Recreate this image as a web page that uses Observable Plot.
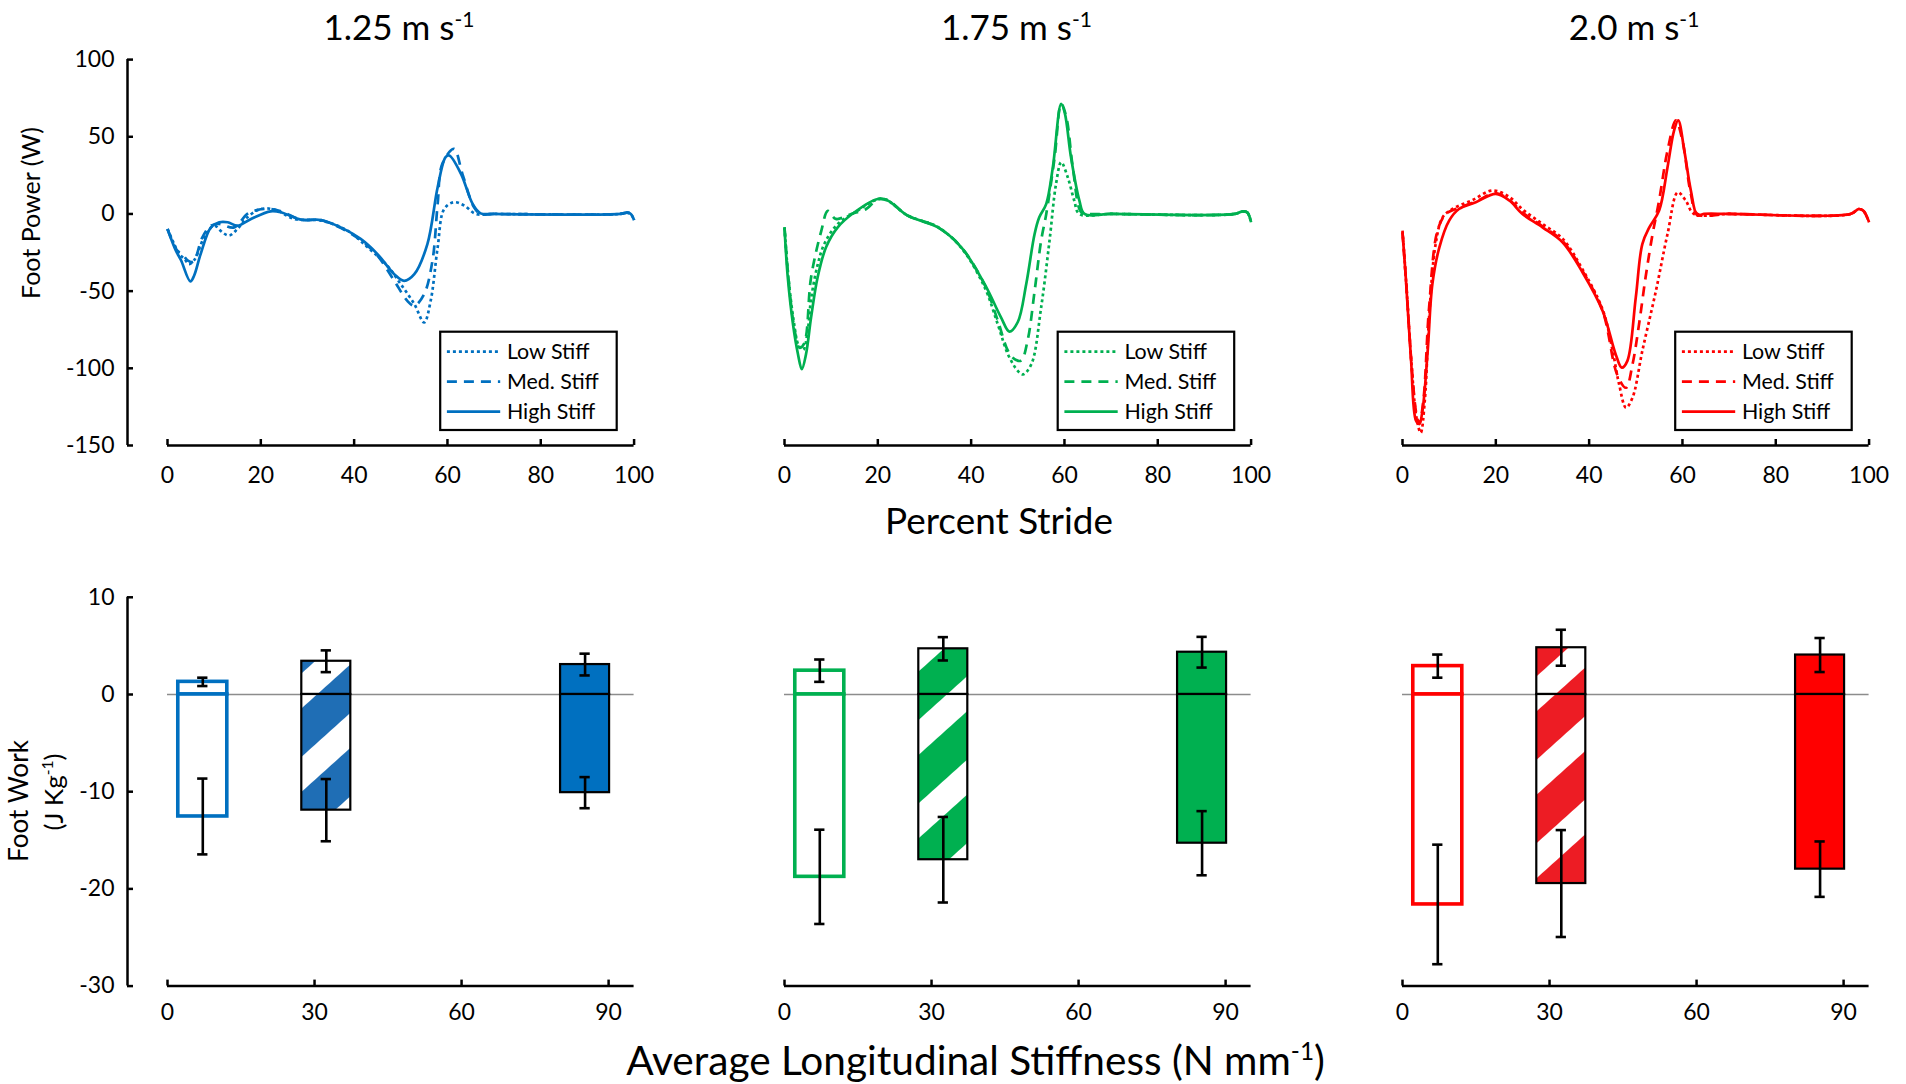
<!DOCTYPE html>
<html>
<head>
<meta charset="utf-8">
<script src="https://cdn.jsdelivr.net/npm/d3@7"></script>
<script src="https://cdn.jsdelivr.net/npm/@observablehq/plot@0.6"></script>
<style>
  html, body { margin: 0; padding: 0; background: #fff; }
  #chart { position: relative; width: 1906px; height: 1084px; overflow: hidden; background: #fff; }
  #chart svg { position: absolute; max-width: none; }
</style>
</head>
<body>
<div id="chart"></div>
<script>
// ---------------- DATA ----------------
const speeds = ["1.25", "1.75", "2.0"];
const stiffLabels = ["Low Stiff", "Med. Stiff", "High Stiff"];
const stiffness = [7.2, 32.4, 85.2];            // average longitudinal stiffness (N/mm)
const strideTicks = [0, 20, 40, 60, 80, 100];
const powerTicks = [100, 50, 0, -50, -100, -150];
const stiffTicks = [0, 30, 60, 90];
const workTicks = [10, 0, -10, -20, -30];

// Foot power (W) vs percent stride  [percent, watts]
const power125Low = [[0,-9.7],[1.5,-20],[2.5,-26],[3.6,-29],[4.6,-32.5],[5.7,-30],[7.9,-15],[10,-7.6],[11.8,-12],[13.2,-14],[15,-9.7],[17.1,-2.2],[20,3.2],[23.2,2.6],[27.1,-3.2],[32.9,-4.3],[38.6,-10.8],[42.9,-21.6],[47.1,-33.5],[50,-45.5],[52.9,-58.4],[55,-70.3],[56.4,-56.3],[57.9,-21.6],[59.3,3.2],[61.4,7.6],[63.6,5.4],[66.1,0],[70,0],[97,0],[98.5,0.8],[99.3,0],[100,-4]];
const power125Med = [[0,-9.7],[2.1,-23.8],[3.2,-26],[4.3,-30],[5.5,-31],[7.5,-15],[9.3,-7.6],[11.1,-6.5],[14.3,-8.7],[17.1,0],[19.3,2.6],[22.1,3.2],[24.5,1.5],[28.6,-3.7],[32.9,-4],[37.1,-9],[41.4,-17],[45,-27],[48.6,-43.3],[51.4,-56.3],[52.9,-59.5],[55,-52],[56.8,-30],[57.9,6.5],[58.9,32.5],[61.4,42.2],[63.2,26],[65.7,4.3],[67.1,0],[70,0],[97,0],[98.5,0.8],[99.3,0],[100,-4]];
const power125High = [[0,-9.7],[1.8,-23.8],[2.9,-30],[4.9,-43.7],[5.7,-40],[7.1,-26],[9.3,-8.7],[11.1,-5.4],[12.9,-5.4],[15,-7.6],[17.9,-3.2],[22.1,1.7],[24.3,1.1],[28.6,-3.7],[32.9,-3.9],[37.1,-8.7],[41.4,-16.2],[45,-26],[48.6,-39],[50.7,-43.3],[52.9,-39],[55.7,-19.5],[57.9,17.3],[59.6,36.8],[60.4,37.9],[62.9,26],[65.4,6.5],[67.1,0.4],[70,0],[97,0],[98.5,0.8],[99.3,0],[100,-4]];

const power175Low = [[0,-8.7],[0.8,-40],[2,-70],[3,-85],[4,-88],[5,-75],[5.7,-55],[7.1,-33],[8.6,-19],[11.4,-6.5],[15.7,2.2],[19.3,8.7],[21.4,9.7],[26.4,-1],[32.9,-8.5],[37.9,-22],[42.9,-47.6],[45.7,-71.4],[47.9,-91],[50,-101.7],[51.1,-104],[52.9,-97.4],[55,-60.6],[56.8,-17.3],[58.2,19.5],[59.3,33.5],[60.7,23.8],[62.1,8.7],[63.2,0],[70,0],[96.5,0],[98.2,1.7],[99.2,1],[100,-5.4]];
const power175Med = [[0,-8.7],[0.8,-40],[2,-72],[3.2,-86.6],[4.2,-84],[5.7,-41],[7.9,-10.8],[9.3,2],[11,-3.2],[14.3,0],[17.5,3.2],[20,9.7],[22.1,9],[26.4,-1],[32.9,-8.7],[37.9,-21.6],[42.9,-46],[45.7,-69],[47.9,-88.7],[49.3,-94],[50.7,-95],[52.1,-82],[53.6,-50],[55,-17.3],[56.1,0],[57.9,36.8],[59.3,71.4],[60.4,62.8],[61.8,30],[63.6,1],[65,0],[70,0],[96.5,0],[98.2,1.7],[99.2,1],[100,-5.4]];
const power175High = [[0,-8.7],[0.7,-41],[1.8,-71],[2.9,-91],[3.7,-100.6],[4.6,-91],[5.7,-67],[7.1,-41],[8.9,-21.6],[11.4,-8.7],[15,1.1],[20,9.7],[22.1,8.7],[26.4,-1.1],[32.9,-8.7],[37.9,-21.6],[42.9,-45.5],[46.4,-67],[48.2,-76.2],[50,-70],[51.8,-45.5],[53.6,-13],[54.6,-2.2],[56.1,6.5],[57.5,30],[59.3,71.4],[60.1,65],[61.4,36.8],[63.2,8.7],[64.3,0],[70,0],[96.5,0],[98.2,1.7],[99.2,1],[100,-5.4]];

const power200Low = [[0,-10.8],[0.8,-45],[2,-100],[3,-132],[3.9,-141.8],[4.8,-120],[5.7,-67],[7.1,-19.5],[8.6,-2.2],[10.7,3.2],[15,9],[19.3,15.2],[22.9,11],[25.7,3],[30,-6.5],[34.3,-16],[38.6,-36],[42.9,-62],[45,-88],[46.4,-110],[47.9,-125.5],[49.3,-119],[51.4,-88.7],[54.3,-50],[56.8,-13],[59,14],[60.7,8.7],[62.5,0],[70,0],[96,0],[97.8,3.2],[98.8,2],[100,-5.4]];
const power200Med = [[0,-11.9],[0.8,-45],[2,-100],[3,-130],[3.6,-136],[4.5,-120],[5.7,-60.6],[7.5,-10.8],[9.3,0],[11.4,3.2],[15.7,8],[20,13.5],[22.9,9],[25.7,1],[30,-8],[34.3,-17.5],[38.6,-37],[42.9,-62.8],[46,-104],[47.9,-112.6],[49.3,-97.4],[50.7,-71.4],[52.1,-41],[53.6,-13],[55,8.7],[56.8,41],[58.6,60.6],[60,47.6],[61.8,13],[63.2,0],[70,0],[96,0],[97.8,3.2],[98.8,2],[100,-5.4]];
const power200High = [[0,-11.9],[0.7,-41],[1.8,-93],[2.9,-134],[3.6,-136],[4.3,-127],[5.4,-88.7],[6.4,-45.5],[7.9,-21.6],[10,-4.3],[12.1,3.2],[15.7,7.6],[20,13],[22.9,8.7],[25.7,0],[30,-8.7],[34.3,-18.4],[38.6,-37.9],[42.9,-62.8],[45.7,-91],[47,-99.6],[48.2,-95.2],[50,-54],[51.4,-19.5],[52.9,-8.7],[55,2.2],[56.8,30.3],[58.2,54],[59.1,60.6],[60.4,41],[61.8,15.2],[63.2,-1],[64.6,0],[70,0],[96,0],[97.8,3.2],[98.8,2],[100,-5.4]];

// Foot work (J/kg): rows = speeds, columns = low / med / high stiffness
const workPosMean = [[1.3, 3.42, 3.08], [2.45, 4.7, 4.35], [2.92, 4.81, 4.06]];
const workPosSD   = [[0.43, 1.12, 1.12], [1.15, 1.2, 1.58], [1.19, 1.85, 1.75]];
const workNegMean = [[-12.55, -11.9, -10.1], [-18.76, -17.0, -15.3], [-21.6, -19.45, -17.97]];
const workNegSD   = [[3.9, 3.2, 1.6], [4.85, 4.4, 3.3], [6.15, 5.5, 2.85]];

// ---------------- STYLE / LAYOUT ----------------
const FONT = "Lato, 'Open Sans', 'DejaVu Sans', sans-serif";
const lineColors = ["#0070C0", "#00B050", "#FF0000"];
const barColors = ["#0070C0", "#00B050", "#FF0000"];
const hatchColors = ["#1F6EB5", "#00B050", "#ED1C24"];
const hatchPhase = [14, 48.6, 16.2];
const dashes = ["3,3", "10,7", null];
const powerSeries = [
  [power125Low, power125Med, power125High],
  [power175Low, power175Med, power175High],
  [power200Low, power200Med, power200High]
];

const W = 1906, H = 1084;
const X0 = [166.7, 784.2, 1401.7];
const FW = 466.6;
const ML = 70, MR = 14;
const TICK_FONT = 23;
const chart = document.getElementById("chart");

function place(svg, left, top) {
  svg.style.left = left + "px";
  svg.style.top = top + "px";
  chart.appendChild(svg);
}

// ---------------- TOP ROW: foot power ----------------
for (let i = 0; i < 3; i++) {
  const height = 510, yMin = 445, yMax = 59.1;
  const svg = Plot.plot({
    width: ML + FW + MR,
    height,
    marginLeft: ML, marginRight: MR, marginTop: yMax, marginBottom: height - yMin,
    x: {domain: [0, 100], label: null},
    y: {domain: [-150, 100], label: null, axis: i === 0 ? undefined : null},
    style: {fontFamily: FONT, fontSize: TICK_FONT + "px", color: "#000", background: "transparent", overflow: "visible"},
    marks: [
      Plot.ruleY([-150], {strokeWidth: 2.5}),
      Plot.axisX({ticks: strideTicks, tickSize: -6, tickPadding: 27, strokeWidth: 2.5, label: null, fontSize: TICK_FONT, tickFormat: d => String(d)}),
      ...(i === 0 ? [
        Plot.ruleX([0], {y1: () => -150, y2: () => 100, dx: -40, strokeWidth: 2.5}),
        Plot.axisY({ticks: powerTicks, tickSize: -6, tickPadding: 19, dx: -40, strokeWidth: 2.5, label: null, fontSize: TICK_FONT, tickFormat: d => String(d)})
      ] : []),
      ...powerSeries[i].map((s, j) => Plot.line(s, {
        x: d => d[0], y: d => d[1],
        stroke: lineColors[i], strokeWidth: 2.7,
        strokeDasharray: dashes[j], strokeLinecap: "butt",
        curve: "catmull-rom"
      }))
    ]
  });
  place(svg, X0[i] - ML, 0);
}

// ---------------- BOTTOM ROW: foot work ----------------
for (let i = 0; i < 3; i++) {
  const top = 540, height = 505, yMax = 596.8, yMin = 985.6;
  const bars = stiffness.map((k, j) => ({k, j, pos: workPosMean[i][j], neg: workNegMean[i][j]}));
  const errs = stiffness.flatMap((k, j) => [
    {k, m: workPosMean[i][j], sd: workPosSD[i][j]},
    {k, m: workNegMean[i][j], sd: workNegSD[i][j]}
  ]);
  const rectStyle = (j) => j === 0
    ? {fill: "#fff", stroke: barColors[i], strokeWidth: 3.6}
    : j === 1
      ? {fill: `url(#hatch${i})`, stroke: "#000", strokeWidth: 2.2}
      : {fill: barColors[i], stroke: "#000", strokeWidth: 2.2};
  const svg = Plot.plot({
    width: ML + FW + MR,
    height,
    marginLeft: ML, marginRight: MR, marginTop: yMax - top, marginBottom: top + height - yMin,
    x: {domain: [0, 95.2], label: null},
    y: {domain: [-30, 10], label: null, axis: i === 0 ? undefined : null},
    style: {fontFamily: FONT, fontSize: TICK_FONT + "px", color: "#000", background: "transparent", overflow: "visible"},
    marks: [
      Plot.ruleY([0], {stroke: "#8c8c8c", strokeWidth: 1.6}),
      Plot.ruleY([-30], {strokeWidth: 2.5}),
      Plot.axisX({ticks: stiffTicks, tickSize: -6, tickPadding: 23.5, strokeWidth: 2.5, label: null, fontSize: TICK_FONT, tickFormat: d => String(d)}),
      ...(i === 0 ? [
        Plot.ruleX([0], {y1: () => -30, y2: () => 10, dx: -40, strokeWidth: 2.5}),
        Plot.axisY({ticks: workTicks, tickSize: -6, tickPadding: 19, dx: -40, strokeWidth: 2.5, label: null, fontSize: TICK_FONT, tickFormat: d => String(d)})
      ] : []),
      ...bars.flatMap(b => [
        Plot.rect([b], {x1: d => d.k - 5, x2: d => d.k + 5, y1: () => 0, y2: d => d.pos, ...rectStyle(b.j)}),
        Plot.rect([b], {x1: d => d.k - 5, x2: d => d.k + 5, y1: () => 0, y2: d => d.neg, ...rectStyle(b.j)})
      ]),
      Plot.ruleX(errs, {x: "k", y1: d => d.m - d.sd, y2: d => d.m + d.sd, strokeWidth: 2.6}),
      Plot.ruleY(errs, {y: d => d.m - d.sd, x1: d => d.k - 1.05, x2: d => d.k + 1.05, strokeWidth: 2.6}),
      Plot.ruleY(errs, {y: d => d.m + d.sd, x1: d => d.k - 1.05, x2: d => d.k + 1.05, strokeWidth: 2.6})
    ]
  });
  // diagonal hatch pattern for the medium-stiffness bars
  const defs = d3.select(svg).insert("defs", ":first-child");
  const P = 62, C = 36;
  const pat = defs.append("pattern")
    .attr("id", `hatch${i}`)
    .attr("patternUnits", "userSpaceOnUse")
    .attr("x", hatchPhase[i]).attr("y", 0)
    .attr("width", P).attr("height", P)
    .attr("patternTransform", "rotate(48)");
  pat.append("rect").attr("width", P).attr("height", P).attr("fill", "#fff");
  pat.append("rect").attr("width", C).attr("height", P).attr("fill", hatchColors[i]);
  place(svg, X0[i] - ML, top);
}

// ---------------- OVERLAY: titles, axis labels, legends ----------------
const ov = d3.select(chart).append("svg")
  .attr("width", W).attr("height", H)
  .style("left", "0px").style("top", "0px")
  .style("font-family", FONT);

function buildText(parent, parts, size, x, y, rotate, anchor) {
  const t = parent.append("text")
    .attr("transform", `translate(${x},${y})` + (rotate ? " rotate(-90)" : ""))
    .attr("text-anchor", anchor || "middle")
    .attr("font-size", size)
    .attr("fill", "#000");
  let shifted = false;
  parts.forEach(p => {
    const sp = t.append("tspan").text(p.t);
    if (p.sup) {
      sp.attr("font-size", size * 0.6).attr("dy", -size * 0.38);
      shifted = true;
    } else if (shifted) {
      sp.attr("dy", size * 0.38);
      shifted = false;
    }
  });
  return t;
}
function fitSize(parts, target, size0) {
  const t = buildText(ov, parts, size0, -1000, -1000, false);
  const w = t.node().getComputedTextLength();
  t.remove();
  return size0 * target / w;
}
function label(parts, target, x, y, rotate) {
  const s = fitSize(parts, target, 30);
  return buildText(ov, parts, s, x, y, rotate);
}

// titles
const titleParts = i => [{t: speeds[i] + " m s"}, {t: "-1", sup: true}];
const titleSize = fitSize(titleParts(0), 151, 30);
for (let i = 0; i < 3; i++) buildText(ov, titleParts(i), titleSize, X0[i] + FW / 2 - 1, 40, false);

// axis titles
label([{t: "Percent Stride"}], 228, 999, 534, false);
label([{t: "Average Longitudinal Stiffness (N mm"}, {t: "-1", sup: true}, {t: ")"}], 699, 975.5, 1075, false);
label([{t: "Foot Power (W)"}], 172, 40, 213, true);
label([{t: "Foot Work"}], 122, 28, 801, true);
label([{t: "(J Kg"}, {t: "-1", sup: true}, {t: ")"}], 77, 63, 792, true);

// legends
const legSize = fitSize([{t: "Med. Stiff"}], 92, 20);
for (let i = 0; i < 3; i++) {
  const lx = X0[i] + 273.5, ly = 331.7;
  const g = ov.append("g");
  g.append("rect").attr("x", lx).attr("y", ly).attr("width", 176.5).attr("height", 98.3)
    .attr("fill", "#fff").attr("stroke", "#000").attr("stroke-width", 2.2);
  stiffLabels.forEach((name, j) => {
    const ry = ly + 20 + 30 * j;
    g.append("line").attr("x1", lx + 6.7).attr("x2", lx + 60).attr("y1", ry).attr("y2", ry)
      .attr("stroke", lineColors[i]).attr("stroke-width", 2.7)
      .attr("stroke-dasharray", dashes[j]);
    g.append("text").attr("x", lx + 66.7).attr("y", ry + 0.36 * legSize)
      .attr("font-size", legSize).attr("fill", "#000").text(name);
  });
}
</script>
</body>
</html>
